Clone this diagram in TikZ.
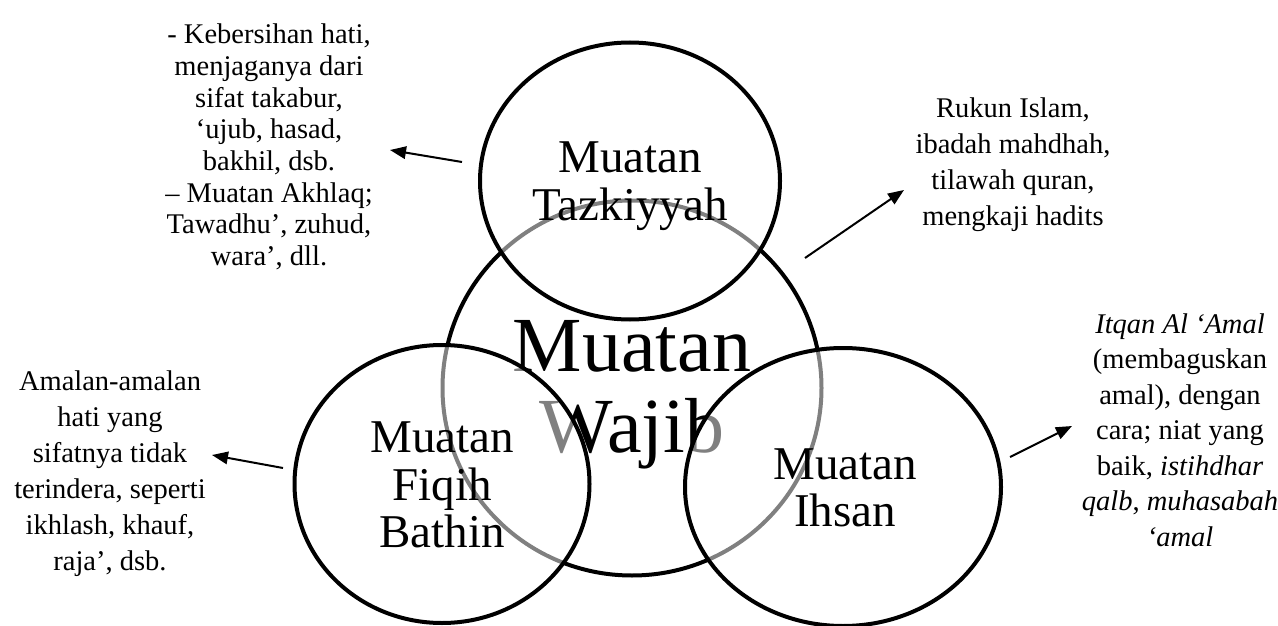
\documentclass[tikz,border=0pt]{standalone}
\usepackage{fontspec}
\setmainfont{Liberation Serif}
\usetikzlibrary{shapes.geometric, arrows.meta}

\begin{document}
\begin{tikzpicture}[x=1pt, y=-1pt,
    every node/.style={inner sep=0pt},
    ring/.style={ellipse, draw=black, line width=4pt, fill=white},
    seethrough/.style={ring, fill opacity=0.5, draw opacity=1, text opacity=1},
    notetext/.style={align=center, font=\fontsize{28.5}{36}\selectfont},
    ringtext/.style={align=center, font=\fontsize{47}{47.5}\selectfont},
    pointer/.style={-{Triangle[length=16pt, width=12.5pt]}, line width=2pt}]

    \useasboundingbox (0,0) rectangle (1278,626);

    \node[ring, minimum width=379pt, minimum height=375pt] (wajib) at (632,388) {};
    \node[align=center, font=\fontsize{78}{81}\selectfont] (wajibtext) at (632,395) {Muatan\\Wajib};

    \node[seethrough, minimum width=300pt, minimum height=277pt] (tazkiyyah) at (630,181) {};
    \node[seethrough, minimum width=295pt, minimum height=278pt] (fiqih) at (442,484) {};
    \node[seethrough, minimum width=316pt, minimum height=278pt] (ihsan) at (843,487) {};

    \node[ringtext] (tazkiyyahtext) at (630,186) {Muatan\\Tazkiyyah};
    \node[ringtext] (fiqihtext) at (442,485) {Muatan\\Fiqih\\Bathin};
    \node[ringtext] (ihsantext) at (845,488) {Muatan\\Ihsan};

    \node[notetext, font=\fontsize{28.5}{31.7}\selectfont] (akhlaq) at (269,147) {- Kebersihan hati,\\menjaganya dari\\sifat takabur,\\‘ujub, hasad,\\bakhil, dsb.\\– Muatan Akhlaq;\\Tawadhu’, zuhud,\\wara’, dll.};
    \node[notetext] (rukun) at (1013,165) {Rukun Islam,\\ibadah mahdhah,\\tilawah quran,\\mengkaji hadits};
    \node[notetext] (amalan) at (110,474) {Amalan-amalan\\hati yang\\sifatnya tidak\\terindera, seperti\\ikhlash, khauf,\\raja’, dsb.};
    \node[notetext, font=\fontsize{28.5}{35.5}\selectfont] (itqan) at (1180,430) {\textit{Itqan Al ‘Amal}\\(membaguskan\\amal), dengan\\cara; niat yang\\baik, \textit{istihdhar}\\\textit{qalb}, \textit{muhasabah}\\\textit{‘amal}};

    \coordinate (tazkiyyah-tail) at (462,162);
    \coordinate (akhlaq-tip) at (390,150);
    \coordinate (wajib-tail) at (805,258);
    \coordinate (rukun-tip) at (904,190);
    \coordinate (fiqih-tail) at (283,468);
    \coordinate (amalan-tip) at (212,455);
    \coordinate (ihsan-tail) at (1010,457);
    \coordinate (itqan-tip) at (1072,426);

    \draw[pointer] (tazkiyyah-tail) -- (akhlaq-tip);
    \draw[pointer] (wajib-tail) -- (rukun-tip);
    \draw[pointer] (fiqih-tail) -- (amalan-tip);
    \draw[pointer] (ihsan-tail) -- (itqan-tip);
\end{tikzpicture}
\end{document}
